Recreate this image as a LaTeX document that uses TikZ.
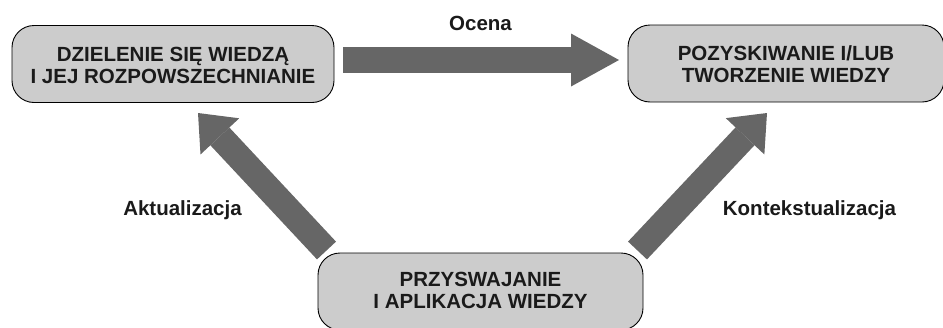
\documentclass[tikz,border=0pt]{standalone}
\usepackage{fontspec}
\setmainfont{Liberation Sans}
\usetikzlibrary{arrows.meta}
\definecolor{boxgray}{HTML}{CCCCCC}
\definecolor{arrowgray}{HTML}{666666}
\definecolor{txt}{HTML}{1A1A1A}
\newcommand{\boxtxt}[2]{\raisebox{-#1}[\height][\depth]{\begin{tabular}{@{}c@{}}#2\end{tabular}}}
\begin{document}
\begin{tikzpicture}[x=1pt,y=-1pt,
  box/.style={draw=black, line width=0.9pt, fill=boxgray, rounded corners=22pt,
    minimum height=77pt, align=center, inner sep=0pt, text=txt,
    font=\bfseries\fontsize{20.5}{22}\selectfont},
  bigarrow/.style={draw=arrowgray, line width=26pt,
    -{Triangle[length=#1,width=53pt,line width=0pt]}},
  lbl/.style={text=txt, font=\bfseries\fontsize{20.5}{22}\selectfont, inner sep=0pt}]
\useasboundingbox (0,0) rectangle (943,327);
\clip (0,0) rectangle (943,327);
\node[box, minimum width=322pt] (L) at (173,64) {\boxtxt{4pt}{DZIELENIE SIĘ WIEDZĄ\\I JEJ ROZPOWSZECHNIANIE}};
\node[box, minimum width=316pt] (R) at (786,63.5) {\boxtxt{4pt}{POZYSKIWANIE I/LUB\\TWORZENIE WIEDZY}};
\node[box, minimum width=325pt] (B) at (480.5,291.5) {\boxtxt{2pt}{PRZYSWAJANIE\\I APLIKACJA WIEDZY}};
\coordinate (h1) at (343,60);
\coordinate (h2) at (619,60);
\coordinate (l1) at (326.5,250.5);
\coordinate (l2) at (198,113);
\coordinate (r1) at (637.5,250.5);
\coordinate (r2) at (767,113);
\draw[bigarrow=48pt] (h1) -- (h2);
\draw[bigarrow=32pt] (l1) -- (l2);
\draw[bigarrow=32pt] (r1) -- (r2);
\node[lbl] (oc) at (480.5,23) {Ocena};
\node[lbl] (ak) at (182.5,210) {Aktualizacja};
\node[lbl] (ko) at (809.5,210) {Kontekstualizacja};
\end{tikzpicture}
\end{document}
